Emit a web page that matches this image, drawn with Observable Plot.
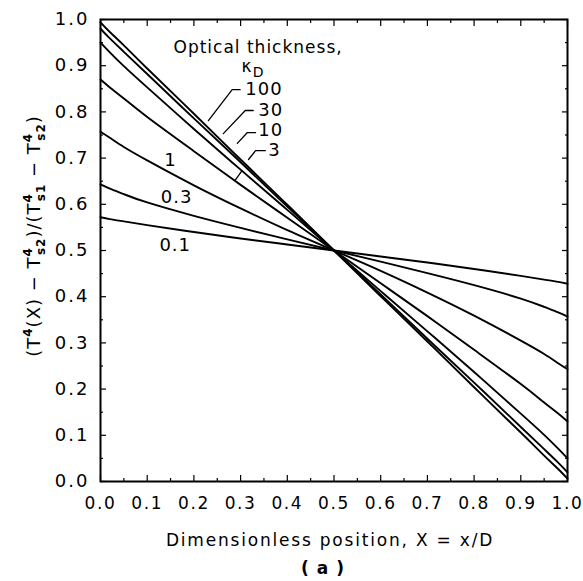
<!DOCTYPE html>
<html>
<head>
<meta charset="utf-8">
<script src="https://cdn.jsdelivr.net/npm/d3@7"></script>
<script src="https://cdn.jsdelivr.net/npm/@observablehq/plot@0.6"></script>
<style>
  html, body { margin: 0; padding: 0; background: white; }
  svg text { letter-spacing: 1px; }
</style>
</head>
<body>
<div id="chart"></div>
<script>
// Dimensionless position X
const X = [0, 0.02, 0.05, 0.1, 0.2, 0.3, 0.4, 0.5, 0.6, 0.7, 0.8, 0.9, 0.95, 0.98, 1.0];
// Optical thickness values (curve labels)
const taus = ["0.1", "0.3", "1", "3", "10", "30", "100"];
// Nondimensional emissive power for each optical thickness
const phi_0_1 = [0.572, 0.568, 0.563, 0.555, 0.540, 0.526, 0.513, 0.500, 0.487, 0.474, 0.460, 0.445, 0.437, 0.432, 0.428];
const phi_0_3 = [0.643, 0.634, 0.622, 0.604, 0.575, 0.549, 0.524, 0.500, 0.476, 0.451, 0.425, 0.396, 0.378, 0.366, 0.357];
const phi_1   = [0.757, 0.744, 0.724, 0.695, 0.641, 0.591, 0.544, 0.500, 0.456, 0.409, 0.359, 0.305, 0.276, 0.256, 0.243];
const phi_3   = [0.870, 0.853, 0.829, 0.789, 0.715, 0.642, 0.571, 0.500, 0.429, 0.358, 0.285, 0.211, 0.171, 0.147, 0.130];
const phi_10  = [0.950, 0.929, 0.899, 0.853, 0.763, 0.675, 0.588, 0.500, 0.412, 0.325, 0.237, 0.147, 0.101, 0.071, 0.050];
const phi_30  = [0.980, 0.959, 0.930, 0.882, 0.786, 0.691, 0.595, 0.500, 0.405, 0.309, 0.214, 0.118, 0.070, 0.041, 0.020];
const phi_100 = [0.994, 0.973, 0.944, 0.894, 0.796, 0.697, 0.599, 0.500, 0.401, 0.303, 0.204, 0.106, 0.056, 0.027, 0.006];
const series = [phi_0_1, phi_0_3, phi_1, phi_3, phi_10, phi_30, phi_100];

// Tick values
const majorTicks = [0, 0.1, 0.2, 0.3, 0.4, 0.5, 0.6, 0.7, 0.8, 0.9, 1.0];
const minorTicks = [0.05, 0.15, 0.25, 0.35, 0.45, 0.55, 0.65, 0.75, 0.85, 0.95];

// Curve label anchors (data coordinates)
const labelText = ["100", "30", "10", "3", "1", "0.3", "0.1"];
const labelX    = [0.310, 0.338, 0.338, 0.359, 0.150, 0.163, 0.160];
const labelY    = [0.848, 0.803, 0.760, 0.716, 0.695, 0.615, 0.511];
const labelAnchor = ["start", "start", "start", "start", "middle", "middle", "middle"];

// Leader lines (data coordinates)
const leaderId = ["100","100","100","30","30","30","10","10","10","3","3","3","b","b"];
const leaderX  = [0.299, 0.282, 0.231, 0.327, 0.310, 0.263, 0.332, 0.314, 0.293, 0.353, 0.332, 0.317, 0.303, 0.289];
const leaderY  = [0.848, 0.848, 0.781, 0.803, 0.803, 0.753, 0.755, 0.755, 0.732, 0.716, 0.716, 0.697, 0.673, 0.653];

const legendTitle = "Optical thickness,";
const xTitle = "Dimensionless position, X = x/D";
const panel = "( a )";

const table = [];
series.forEach((s, i) => s.forEach((v, j) => table.push({tau: taus[i], x: X[j], y: v})));
const labels = labelText.map((t, i) => ({t, x: labelX[i], y: labelY[i], a: labelAnchor[i]}));
const leaders = leaderId.map((id, i) => ({id, x: leaderX[i], y: leaderY[i]}));

const fmt = d3.format(".1f");
const font = "DejaVu Sans";

const chart = Plot.plot({
  width: 583,
  height: 581,
  marginLeft: 100,
  marginRight: 16,
  marginTop: 19,
  marginBottom: 100,
  style: {fontFamily: font, fontSize: "17px", background: "white", color: "black"},
  x: {domain: [0, 1]},
  y: {domain: [0, 1]},
  marks: [
    // inward ticks on all four sides
    Plot.axisX(majorTicks, {anchor: "bottom", tickSize: -6, tickFormat: () => "", label: null, strokeWidth: 1.2}),
    Plot.axisX(minorTicks, {anchor: "bottom", tickSize: -3, tickFormat: () => "", label: null, strokeWidth: 1.2}),
    Plot.axisX(majorTicks, {anchor: "top", tickSize: -6, tickFormat: () => "", label: null, strokeWidth: 1.2}),
    Plot.axisX(minorTicks, {anchor: "top", tickSize: -3, tickFormat: () => "", label: null, strokeWidth: 1.2}),
    Plot.axisY(majorTicks, {anchor: "left", tickSize: -6, tickFormat: () => "", label: null, strokeWidth: 1.2}),
    Plot.axisY(minorTicks, {anchor: "left", tickSize: -3, tickFormat: () => "", label: null, strokeWidth: 1.2}),
    Plot.axisY(majorTicks, {anchor: "right", tickSize: -6, tickFormat: () => "", label: null, strokeWidth: 1.2}),
    Plot.axisY(minorTicks, {anchor: "right", tickSize: -3, tickFormat: () => "", label: null, strokeWidth: 1.2}),
    // tick labels
    Plot.axisX(majorTicks, {anchor: "bottom", tickSize: 0, tickPadding: 15, tickFormat: fmt, label: null, fontSize: 17}),
    Plot.axisY(majorTicks, {anchor: "left", tickSize: 0, tickPadding: 11, tickFormat: fmt, label: null, fontSize: 18}),
    Plot.frame({stroke: "black", strokeWidth: 2}),
    // curves
    Plot.line(table, {x: "x", y: "y", z: "tau", curve: "natural", stroke: "black", strokeWidth: 1.9}),
    // leaders and curve labels
    Plot.line(leaders, {x: "x", y: "y", z: "id", stroke: "black", strokeWidth: 1.3}),
    Plot.text(labels.filter(d => d.a === "start"), {x: "x", y: "y", text: "t", textAnchor: "start", fontSize: 18}),
    Plot.text(labels.filter(d => d.a === "middle"), {x: "x", y: "y", text: "t", textAnchor: "middle", fontSize: 18}),
    // legend title
    Plot.text([legendTitle], {frameAnchor: "top-left", dx: 73, dy: 21, text: d => d, textAnchor: "start", fontSize: 17}),
    // x title and panel letter
    Plot.text([xTitle], {frameAnchor: "bottom", dy: 64, dx: -4, text: d => d, fontSize: 17, className: "xtitle"}),
    Plot.text([panel], {frameAnchor: "bottom", dy: 92, dx: -11, text: d => d, fontSize: 17, fontWeight: "bold"})
  ]
});

document.getElementById("chart").appendChild(chart);

const svg = d3.select(chart);
svg.selectAll("[aria-label='x-axis tick label'] text").style("letter-spacing", "1.6px");
svg.selectAll("[aria-label='y-axis tick label'] text").style("letter-spacing", "2px");
svg.selectAll(".xtitle text").style("letter-spacing", "1.8px");

// optical thickness symbol kappa_D
const k = svg.append("text").attr("x", 253).attr("y", 72).attr("font-family", font).attr("font-size", 17).attr("fill", "black");
k.append("tspan").text("κ");
k.append("tspan").text("D").attr("font-size", 14).attr("dy", 5);

// rotated y-axis title with stacked super/subscripts
const yl = svg.append("text")
  .attr("transform", "translate(40,236) rotate(-90)")
  .attr("text-anchor", "middle")
  .attr("font-family", font)
  .attr("font-size", 18)
  .attr("fill", "black");
const parts = [["(", ""], ["T", ""], ["4", "sup"], ["(X) − T", ""], ["4", "sup"], ["s2", "sub"], [")/(T", ""], ["4", "sup"], ["s1", "sub"], [" − T", ""], ["4", "sup"], ["s2", "sub"], [")", ""]];
let base = 0, prev = "";
for (const [t, kind] of parts) {
  const target = kind === "sup" ? -8 : kind === "sub" ? 5 : 0;
  const ts = yl.append("tspan").text(t).attr("dy", target - base);
  if (kind) ts.attr("font-size", 12).attr("font-weight", "bold");
  if (kind === "sub" && prev === "sup") ts.attr("dx", -8);
  base = target;
  prev = kind;
}
</script>
</body>
</html>
